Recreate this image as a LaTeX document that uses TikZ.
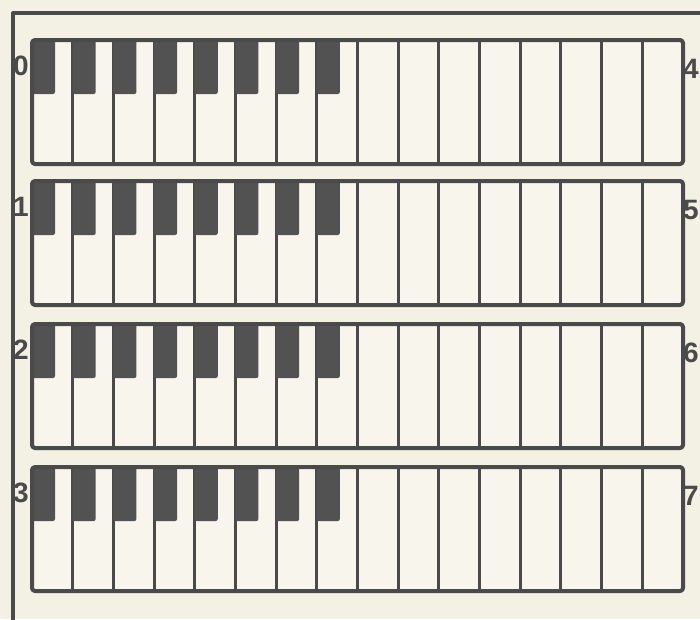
\documentclass[tikz,border=0pt]{standalone}
\usepackage{fontspec}
\setmainfont{Liberation Sans}
\definecolor{bgc}{HTML}{F3F0E4}
\definecolor{inkc}{HTML}{4A4A4A}
\definecolor{blackkeyc}{HTML}{525252}
\definecolor{keyc}{HTML}{F7F5EC}
\tikzset{
  frameline/.style={draw=inkc, line width=4pt, line cap=rect},
  kbframe/.style={draw=inkc, line width=4pt, rounded corners=3pt},
  divider/.style={draw=inkc, line width=3pt},
  blackkey/.style={fill=blackkeyc, rounded corners=2pt},
  lbl/.style={text=inkc, font=\fontsize{28}{28}\selectfont\bfseries, inner sep=0pt}
}
\begin{document}
\begin{tikzpicture}[x=1pt,y=-1pt,line join=round]
\fill[bgc] (0,0) rectangle (700,619);
\useasboundingbox (0,0) rectangle (700,619);
\draw[frameline] (13,625) -- (13,13) -- (705,13);
\foreach \t/\rl/\rr in {40/0/4,181/1/5,324/2/6,467/3/7} {
  \fill[keyc] (32,\t) rectangle (683,\t+124);
  \foreach \i in {1,...,15}
    \draw[divider] ({32+\i*40.6875},\t) -- ++(0,124);
  \foreach \i in {0,...,7}
    \fill[blackkey] ({32+\i*40.6875},\t) rectangle ++(23,54);
  \draw[kbframe] (32,\t) rectangle (683,\t+124);
  \node[lbl] (left\rl) at (21,\t+26) {\rl};
  \node[lbl] (right\rr) at (691,\t+29) {\rr};
}
\end{tikzpicture}
\end{document}
